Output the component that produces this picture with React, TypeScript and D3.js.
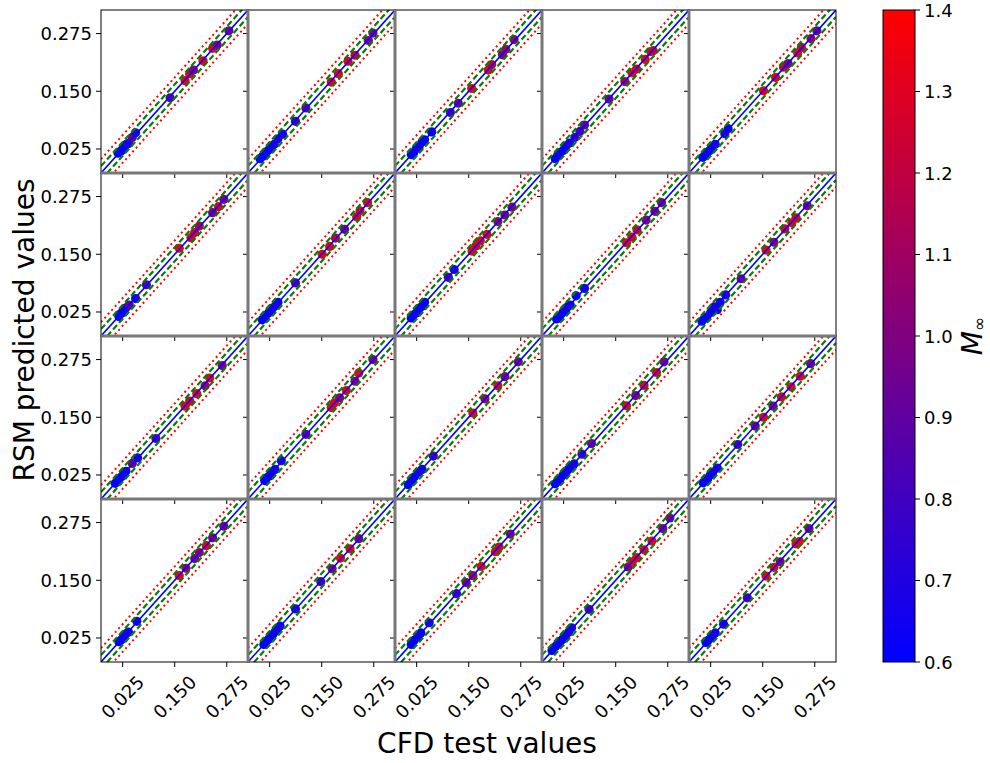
import React, { useRef, useEffect } from "react";
import * as d3 from "d3";

// each point: [CFD test value, RSM predicted value, Mach number]
type Pt = [number, number, number];

const panel01: Pt[] = [
  [0.014, 0.016, 0.62], [0.018, 0.019, 0.63], [0.022, 0.021, 0.64], [0.026, 0.027, 0.65],
  [0.030, 0.031, 0.66], [0.034, 0.035, 0.67], [0.039, 0.037, 0.7], [0.048, 0.05, 0.95],
  [0.056, 0.06, 0.68], [0.139, 0.136, 0.88], [0.175, 0.173, 1.38], [0.186, 0.188, 1.3],
  [0.195, 0.196, 1.05], [0.218, 0.216, 1.35], [0.241, 0.243, 1.32], [0.252, 0.25, 1.0],
  [0.28, 0.281, 0.98],
];
const panel02: Pt[] = [
  [0.002, 0.004, 0.62], [0.008, 0.009, 0.63], [0.013, 0.012, 0.64], [0.019, 0.02, 0.65],
  [0.024, 0.024, 0.66], [0.03, 0.031, 0.68], [0.036, 0.035, 0.7], [0.045, 0.047, 0.72],
  [0.056, 0.057, 0.7], [0.087, 0.085, 0.8], [0.112, 0.114, 0.9], [0.173, 0.17, 1.33],
  [0.19, 0.188, 1.36], [0.213, 0.215, 1.3], [0.23, 0.228, 1.25], [0.262, 0.26, 1.02],
  [0.273, 0.276, 0.98],
];
const panel03: Pt[] = [
  [0.012, 0.013, 0.62], [0.018, 0.017, 0.64], [0.024, 0.026, 0.65], [0.031, 0.03, 0.67],
  [0.038, 0.04, 0.66], [0.044, 0.045, 0.63], [0.061, 0.062, 0.65], [0.106, 0.104, 0.82],
  [0.125, 0.124, 0.95], [0.157, 0.156, 1.37], [0.197, 0.196, 1.34], [0.205, 0.208, 1.2],
  [0.231, 0.229, 1.03], [0.239, 0.241, 1.12], [0.259, 0.262, 1.08],
];
const panel04: Pt[] = [
  [0.005, 0.004, 0.62], [0.011, 0.012, 0.64], [0.016, 0.017, 0.66], [0.024, 0.022, 0.65],
  [0.031, 0.032, 0.68], [0.039, 0.038, 0.7], [0.052, 0.05, 0.78], [0.064, 0.063, 0.85],
  [0.075, 0.077, 0.93], [0.134, 0.133, 0.98], [0.172, 0.171, 1.15], [0.189, 0.19, 1.33],
  [0.2, 0.198, 1.28], [0.221, 0.219, 1.36], [0.234, 0.236, 1.3], [0.24, 0.238, 1.25],
];
const panel05: Pt[] = [
  [0.006, 0.007, 0.62], [0.011, 0.01, 0.63], [0.016, 0.017, 0.65], [0.022, 0.021, 0.64],
  [0.027, 0.028, 0.66], [0.036, 0.035, 0.68], [0.059, 0.058, 0.74], [0.067, 0.069, 0.7],
  [0.152, 0.151, 1.35], [0.181, 0.18, 1.32], [0.2, 0.202, 1.25], [0.211, 0.21, 1.02],
  [0.234, 0.233, 1.34], [0.243, 0.245, 1.22], [0.266, 0.264, 1.1], [0.28, 0.281, 0.98],
];
const panel06: Pt[] = [
  [0.016, 0.015, 0.63], [0.021, 0.022, 0.65], [0.025, 0.024, 0.64], [0.029, 0.03, 0.66],
  [0.033, 0.034, 0.68], [0.041, 0.04, 0.92], [0.056, 0.054, 0.66], [0.082, 0.084, 0.86],
  [0.161, 0.163, 1.36], [0.189, 0.186, 1.34], [0.198, 0.197, 1.28], [0.209, 0.211, 1.15],
  [0.241, 0.24, 1.02], [0.255, 0.253, 1.3], [0.268, 0.269, 1.0],
];
const panel07: Pt[] = [
  [0.007, 0.008, 0.62], [0.014, 0.013, 0.64], [0.022, 0.023, 0.65], [0.028, 0.027, 0.66],
  [0.033, 0.034, 0.68], [0.04, 0.039, 0.7], [0.045, 0.046, 0.67], [0.087, 0.088, 0.88],
  [0.151, 0.15, 1.36], [0.169, 0.167, 1.33], [0.183, 0.185, 1.2], [0.205, 0.204, 1.0],
  [0.234, 0.231, 1.34], [0.242, 0.244, 1.28], [0.26, 0.262, 1.32],
];
const panel08: Pt[] = [
  [0.012, 0.012, 0.62], [0.018, 0.019, 0.63], [0.024, 0.023, 0.65], [0.029, 0.03, 0.66],
  [0.033, 0.034, 0.64], [0.039, 0.038, 0.67], [0.044, 0.046, 0.66], [0.101, 0.1, 0.82],
  [0.115, 0.117, 0.68], [0.158, 0.157, 1.36], [0.167, 0.168, 1.3], [0.178, 0.179, 1.34],
  [0.194, 0.193, 1.32], [0.22, 0.221, 1.05], [0.237, 0.235, 1.0], [0.254, 0.252, 1.02],
];
const panel09: Pt[] = [
  [0.008, 0.01, 0.62], [0.016, 0.015, 0.64], [0.023, 0.024, 0.65], [0.03, 0.029, 0.66],
  [0.036, 0.038, 0.68], [0.041, 0.04, 0.7], [0.055, 0.06, 0.66], [0.075, 0.076, 0.72],
  [0.176, 0.175, 1.36], [0.189, 0.187, 1.34], [0.201, 0.203, 1.3], [0.223, 0.224, 1.05],
  [0.244, 0.243, 1.02], [0.26, 0.262, 1.0],
];
const panel10: Pt[] = [
  [0.004, 0.005, 0.62], [0.01, 0.011, 0.63], [0.016, 0.014, 0.64], [0.025, 0.024, 0.66],
  [0.033, 0.036, 0.7], [0.041, 0.03, 0.66], [0.048, 0.046, 0.68], [0.061, 0.062, 0.72],
  [0.098, 0.097, 0.96], [0.158, 0.159, 1.36], [0.177, 0.176, 1.05], [0.203, 0.205, 1.26],
  [0.22, 0.218, 1.34], [0.23, 0.229, 1.3], [0.257, 0.255, 1.0],
];
const panel11: Pt[] = [
  [0.007, 0.007, 0.62], [0.015, 0.016, 0.64], [0.022, 0.021, 0.65], [0.028, 0.029, 0.66],
  [0.033, 0.033, 0.68], [0.048, 0.05, 0.95], [0.061, 0.062, 0.7], [0.105, 0.104, 0.84],
  [0.175, 0.174, 1.36], [0.186, 0.185, 1.3], [0.203, 0.201, 1.34], [0.223, 0.218, 1.08],
  [0.234, 0.235, 1.34], [0.264, 0.262, 1.02],
];
const panel12: Pt[] = [
  [0.013, 0.013, 0.62], [0.018, 0.019, 0.64], [0.024, 0.023, 0.65], [0.031, 0.032, 0.66],
  [0.038, 0.037, 0.68], [0.053, 0.056, 0.7], [0.112, 0.113, 0.9], [0.173, 0.171, 1.36],
  [0.18, 0.181, 1.3], [0.193, 0.192, 1.08], [0.209, 0.208, 1.34], [0.23, 0.228, 1.05],
  [0.239, 0.246, 1.36], [0.273, 0.275, 1.0],
];
const panel13: Pt[] = [
  [0.005, 0.004, 0.62], [0.013, 0.013, 0.64], [0.02, 0.021, 0.65], [0.03, 0.031, 0.66],
  [0.038, 0.037, 0.68], [0.065, 0.066, 0.84], [0.16, 0.159, 1.38], [0.189, 0.19, 1.1],
  [0.22, 0.218, 1.34], [0.237, 0.238, 1.05], [0.269, 0.27, 1.0],
];
const panel14: Pt[] = [
  [0.005, 0.006, 0.62], [0.01, 0.011, 0.63], [0.016, 0.015, 0.64], [0.023, 0.024, 0.65],
  [0.03, 0.029, 0.66], [0.036, 0.037, 0.67], [0.041, 0.042, 0.68], [0.05, 0.049, 0.7],
  [0.069, 0.07, 0.82], [0.092, 0.093, 0.98], [0.176, 0.175, 1.36], [0.198, 0.197, 1.05],
  [0.218, 0.219, 1.32], [0.248, 0.247, 1.35], [0.266, 0.27, 1.02],
];
const panel15: Pt[] = [
  [0.007, 0.008, 0.62], [0.012, 0.013, 0.64], [0.018, 0.017, 0.65], [0.024, 0.025, 0.66],
  [0.03, 0.031, 0.68], [0.041, 0.04, 0.7], [0.09, 0.091, 0.84], [0.132, 0.131, 0.95],
  [0.152, 0.15, 1.35], [0.175, 0.174, 1.02], [0.195, 0.194, 1.32], [0.218, 0.216, 1.36],
  [0.24, 0.239, 1.34], [0.265, 0.266, 1.0],
];
const panel16: Pt[] = [
  [0.016, 0.017, 0.62], [0.022, 0.021, 0.64], [0.027, 0.028, 0.65], [0.033, 0.034, 0.66],
  [0.039, 0.038, 0.68], [0.059, 0.061, 0.7], [0.161, 0.16, 1.36], [0.177, 0.176, 1.05],
  [0.198, 0.197, 1.0], [0.209, 0.21, 1.1], [0.226, 0.225, 1.34], [0.241, 0.242, 1.02],
  [0.268, 0.267, 0.98],
];
const panel17: Pt[] = [
  [0.011, 0.011, 0.62], [0.016, 0.017, 0.63], [0.022, 0.022, 0.65], [0.027, 0.028, 0.66],
  [0.033, 0.033, 0.64], [0.039, 0.04, 0.66], [0.045, 0.046, 0.68], [0.05, 0.051, 0.7],
  [0.087, 0.088, 0.72], [0.148, 0.147, 0.85], [0.175, 0.175, 1.02], [0.195, 0.198, 1.36],
  [0.218, 0.218, 1.34], [0.239, 0.24, 1.0],
];
const panel18: Pt[] = [
  [0.012, 0.011, 0.62], [0.019, 0.02, 0.64], [0.027, 0.026, 0.65], [0.035, 0.036, 0.66],
  [0.055, 0.058, 0.68], [0.121, 0.121, 0.82], [0.144, 0.145, 1.0], [0.16, 0.16, 1.15],
  [0.18, 0.18, 1.36], [0.214, 0.212, 1.34], [0.223, 0.222, 1.3], [0.25, 0.25, 1.02],
];
const panel19: Pt[] = [
  [-0.003, -0.002, 0.62], [0.006, 0.007, 0.63], [0.011, 0.012, 0.64], [0.016, 0.017, 0.65],
  [0.022, 0.022, 0.66], [0.03, 0.03, 0.67], [0.037, 0.038, 0.68], [0.044, 0.047, 0.7],
  [0.086, 0.087, 0.84], [0.18, 0.179, 1.05], [0.19, 0.19, 1.34], [0.2, 0.199, 1.36],
  [0.218, 0.216, 1.34], [0.237, 0.235, 1.36], [0.263, 0.262, 1.02], [0.28, 0.285, 1.0],
];
const panel20: Pt[] = [
  [0.014, 0.015, 0.62], [0.019, 0.02, 0.64], [0.025, 0.025, 0.65], [0.03, 0.031, 0.66],
  [0.036, 0.036, 0.68], [0.056, 0.055, 0.7], [0.113, 0.112, 0.84], [0.158, 0.159, 1.36],
  [0.177, 0.178, 1.34], [0.192, 0.19, 1.05], [0.23, 0.229, 1.36], [0.238, 0.234, 1.38],
  [0.261, 0.262, 1.0],
];

const panels: Pt[][] = [
  panel01, panel02, panel03, panel04, panel05,
  panel06, panel07, panel08, panel09, panel10,
  panel11, panel12, panel13, panel14, panel15,
  panel16, panel17, panel18, panel19, panel20,
];

const axisTicks = [0.025, 0.15, 0.275];
const axisDomain: [number, number] = [-0.027, 0.326];
const machDomain: [number, number] = [0.6, 1.4];
const machTicks = [0.6, 0.7, 0.8, 0.9, 1.0, 1.1, 1.2, 1.3, 1.4];
const innerBand = 0.015;
const outerBand = 0.03;

const FONT = "DejaVu Sans, sans-serif";

const App = () => {
  const ref = useRef<SVGSVGElement>(null);

  useEffect(() => {
    const svg = d3.select(ref.current);
    svg.selectAll("*").remove();

    const rows = 4;
    const cols = 5;
    const left = 101;
    const top = 10;
    const pw = 147;
    const ph = 163;

    const x = d3.scaleLinear().domain(axisDomain).range([0, pw]);
    const y = d3.scaleLinear().domain(axisDomain).range([ph, 0]);
    const color = d3.scaleLinear<string>().domain(machDomain).range(["blue", "red"]);
    const fmt = d3.format(".3f");

    const defs = svg.append("defs");
    defs
      .append("clipPath")
      .attr("id", "panel-clip")
      .append("rect")
      .attr("width", pw)
      .attr("height", ph);

    svg.append("rect").attr("width", 990).attr("height", 763).attr("fill", "white");

    panels.forEach((pts, i) => {
      const r = Math.floor(i / cols);
      const c = i % cols;
      const g = svg
        .append("g")
        .attr("transform", `translate(${left + c * pw},${top + r * ph})`);

      const plot = g.append("g").attr("clip-path", "url(#panel-clip)");

      plot
        .selectAll("circle")
        .data(pts)
        .enter()
        .append("circle")
        .attr("cx", (d) => x(d[0]))
        .attr("cy", (d) => y(d[1]))
        .attr("r", 4.6)
        .attr("fill", (d) => color(d[2]));

      const lines = [
        { off: -outerBand, stroke: "red", dash: "2,3.2", w: 2 },
        { off: outerBand, stroke: "red", dash: "2,3.2", w: 2 },
        { off: -innerBand, stroke: "green", dash: "6,3", w: 2.2 },
        { off: innerBand, stroke: "green", dash: "6,3", w: 2.2 },
        { off: 0, stroke: "blue", dash: null, w: 1.6 },
      ];
      lines.forEach((l) => {
        plot
          .append("line")
          .attr("x1", x(axisDomain[0]))
          .attr("y1", y(axisDomain[0] + l.off))
          .attr("x2", x(axisDomain[1]))
          .attr("y2", y(axisDomain[1] + l.off))
          .attr("stroke", l.stroke)
          .attr("stroke-width", l.w)
          .attr("stroke-dasharray", l.dash);
      });

      // ticks
      axisTicks.forEach((t) => {
        g.append("line")
          .attr("x1", -5)
          .attr("x2", 0)
          .attr("y1", y(t))
          .attr("y2", y(t))
          .attr("stroke", "black")
          .attr("stroke-width", 1);
        g.append("line")
          .attr("x1", x(t))
          .attr("x2", x(t))
          .attr("y1", ph)
          .attr("y2", ph + 5)
          .attr("stroke", "black")
          .attr("stroke-width", 1);
      });

      if (c === 0) {
        axisTicks.forEach((t) => {
          g.append("text")
            .attr("x", -9)
            .attr("y", y(t))
            .attr("text-anchor", "end")
            .attr("dominant-baseline", "central")
            .style("font-family", FONT)
            .style("font-size", "18px")
            .text(fmt(t));
        });
      }
      if (r === rows - 1) {
        axisTicks.forEach((t) => {
          g.append("text")
            .attr("transform", `translate(${x(t)},${ph + 35}) rotate(-45)`)
            .attr("text-anchor", "middle")
            .attr("dominant-baseline", "central")
            .style("font-family", FONT)
            .style("font-size", "18px")
            .text(fmt(t));
        });
      }

      g.append("rect")
        .attr("width", pw)
        .attr("height", ph)
        .attr("fill", "none")
        .attr("stroke", "black")
        .attr("stroke-width", 1);
    });

    // shared inner borders
    for (let c = 1; c < cols; c++) {
      svg
        .append("line")
        .attr("x1", left + c * pw)
        .attr("x2", left + c * pw)
        .attr("y1", top)
        .attr("y2", top + rows * ph)
        .attr("stroke", "#777")
        .attr("stroke-width", 3);
    }
    for (let r = 1; r < rows; r++) {
      svg
        .append("line")
        .attr("x1", left)
        .attr("x2", left + cols * pw)
        .attr("y1", top + r * ph)
        .attr("y2", top + r * ph)
        .attr("stroke", "#777")
        .attr("stroke-width", 3);
    }

    // axis titles
    svg
      .append("text")
      .attr("transform", `translate(487,753)`)
      .attr("text-anchor", "middle")
      .style("font-family", FONT)
      .style("font-size", "28px")
      .text("CFD test values");
    svg
      .append("text")
      .attr("transform", `translate(34,330) rotate(-90)`)
      .attr("text-anchor", "middle")
      .style("font-family", FONT)
      .style("font-size", "28px")
      .text("RSM predicted values");

    // colorbar
    const cbX = 883;
    const cbW = 32;
    const cbTop = 10;
    const cbBottom = top + rows * ph;
    const cy = d3.scaleLinear().domain(machDomain).range([cbBottom, cbTop]);

    const grad = defs
      .append("linearGradient")
      .attr("id", "mach-grad")
      .attr("x1", 0)
      .attr("y1", 1)
      .attr("x2", 0)
      .attr("y2", 0);
    d3.range(0, 1.0001, 0.1).forEach((f) => {
      grad
        .append("stop")
        .attr("offset", f)
        .attr("stop-color", color(machDomain[0] + f * (machDomain[1] - machDomain[0])));
    });

    svg
      .append("rect")
      .attr("x", cbX)
      .attr("y", cbTop)
      .attr("width", cbW)
      .attr("height", cbBottom - cbTop)
      .attr("fill", "url(#mach-grad)")
      .attr("stroke", "black")
      .attr("stroke-width", 1);

    machTicks.forEach((t) => {
      svg
        .append("line")
        .attr("x1", cbX + cbW)
        .attr("x2", cbX + cbW + 5)
        .attr("y1", cy(t))
        .attr("y2", cy(t))
        .attr("stroke", "black");
      svg
        .append("text")
        .attr("x", cbX + cbW + 9)
        .attr("y", cy(t))
        .attr("dominant-baseline", "central")
        .style("font-family", FONT)
        .style("font-size", "18px")
        .text(d3.format(".1f")(t));
    });

    const mLabel = svg
      .append("text")
      .attr("transform", `translate(982,${top + (rows * ph) / 2}) rotate(-90)`)
      .attr("text-anchor", "middle")
      .style("font-family", FONT)
      .style("font-size", "28px");
    mLabel.append("tspan").style("font-style", "italic").text("M");
    mLabel.append("tspan").attr("dy", 3).style("font-size", "17px").text("∞");
  }, []);

  return (
    <svg
      ref={ref}
      width={990}
      height={763}
      style={{ position: "absolute", left: 0, top: 0 }}
    ></svg>
  );
};

export default App;
